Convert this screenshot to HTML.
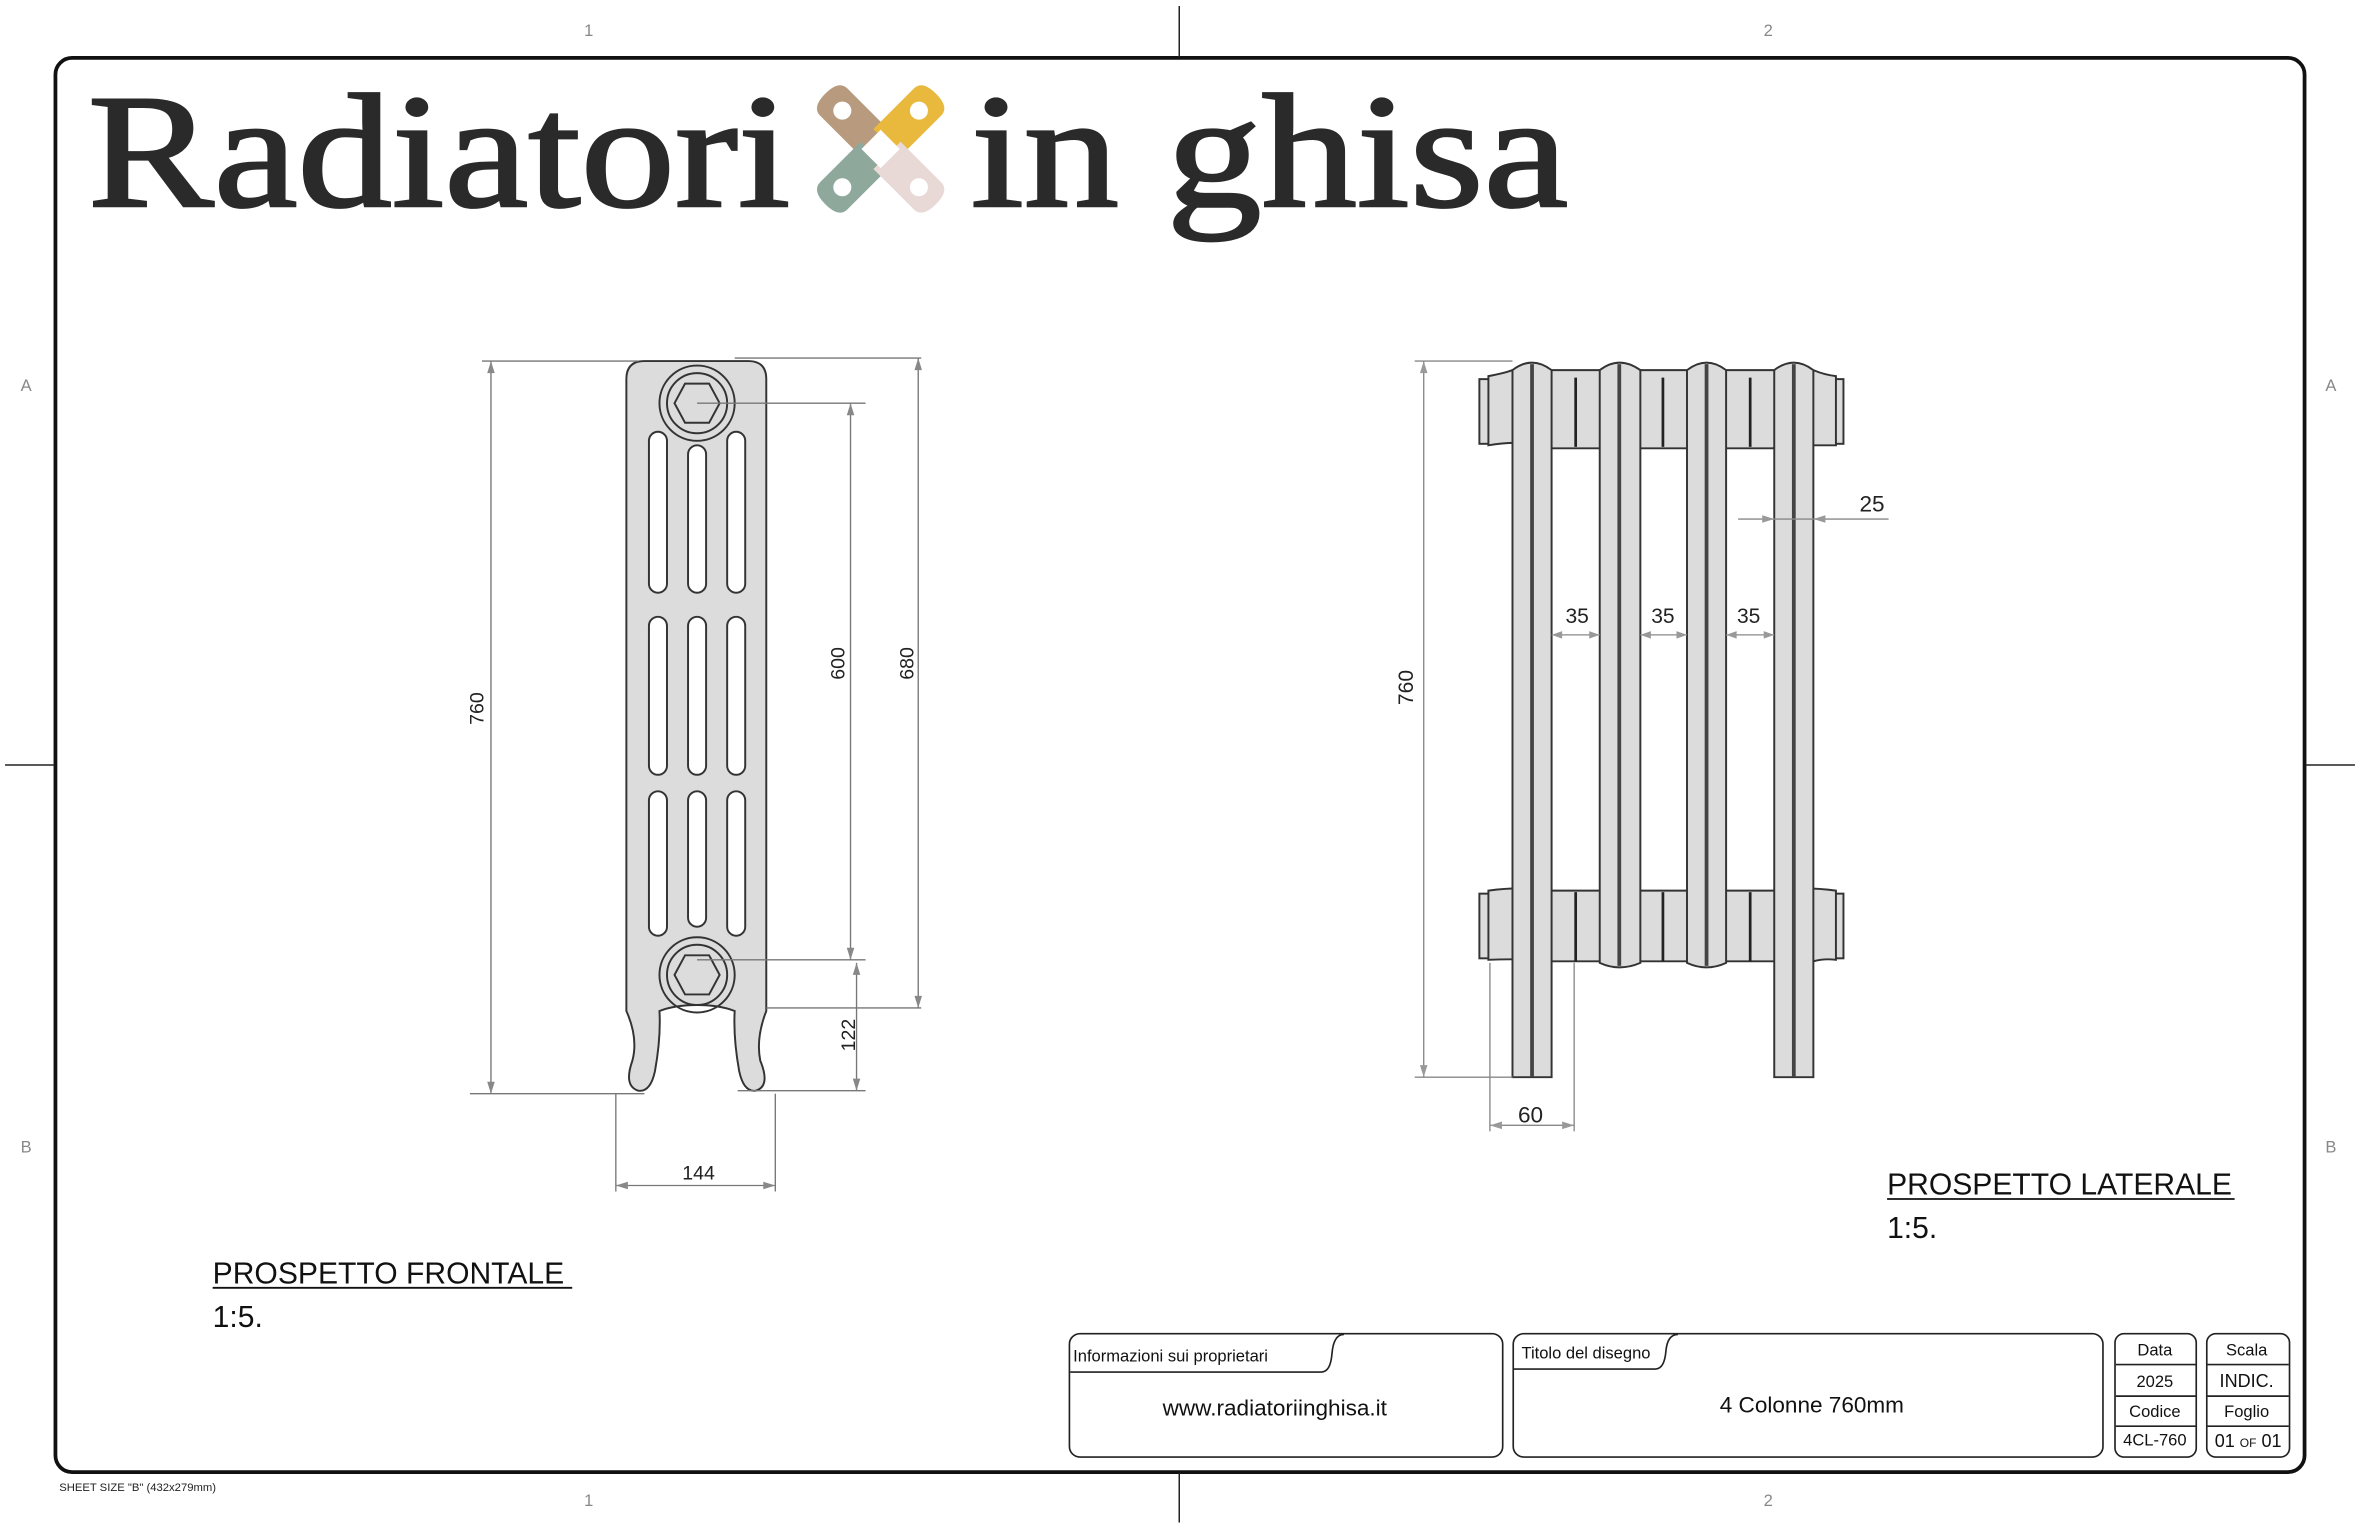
<!DOCTYPE html>
<html><head><meta charset="utf-8"><style>
html,body{margin:0;padding:0;background:#fff;}
svg{display:block;}
text{font-family:"Liberation Sans",sans-serif;}
</style></head><body>
<svg width="2360" height="1527" viewBox="0 0 1568 1015" xmlns="http://www.w3.org/2000/svg">
<rect width="1568" height="1015" fill="#fff"/>
<rect x="36.5" y="38.5" width="1495" height="940" rx="11" fill="none" stroke="#111" stroke-width="2.5"/>
<g stroke="#222" stroke-width="1">
<line x1="783.5" y1="4" x2="783.5" y2="38"/><line x1="783.5" y1="979" x2="783.5" y2="1012"/>
<line x1="3" y1="508.5" x2="36" y2="508.5"/><line x1="1532" y1="508.5" x2="1565" y2="508.5"/>
</g>
<g font-size="11" fill="#888" text-anchor="middle">
<text x="391" y="24">1</text><text x="1175" y="24">2</text>
<text x="391" y="1001">1</text><text x="1175" y="1001">2</text>
<text x="17" y="260">A</text><text x="17" y="766">B</text>
<text x="1549" y="260">A</text><text x="1549" y="766">B</text>
</g>
<text x="39" y="991" font-size="7.5" fill="#222">SHEET SIZE "B" (432x279mm)</text>
<text x="58" y="137" font-size="108" fill="#2a2a2a" stroke="#2a2a2a" stroke-width="1.6" textLength="467" lengthAdjust="spacingAndGlyphs" style="font-family:'Liberation Serif',serif">Radiatori</text>
<text x="645" y="137" font-size="108" fill="#2a2a2a" stroke="#2a2a2a" stroke-width="1.6" textLength="397" lengthAdjust="spacingAndGlyphs" style="font-family:'Liberation Serif',serif">in ghisa</text>
<g transform="translate(585,99)">
<g transform="rotate(-45)"><path d="M-8,-6 L-8,-44 Q-8,-52 0,-52 Q8,-52 8,-44 L8,-6 Z" fill="#b89b7e" transform="scale(1.6,1)"/><circle cx="0" cy="-36" r="6" fill="#fff"/></g>
<g transform="rotate(45)"><path d="M-8,-6 L-8,-44 Q-8,-52 0,-52 Q8,-52 8,-44 L8,-6 Z" fill="#e9b93e" transform="scale(1.6,1)"/><circle cx="0" cy="-36" r="6" fill="#fff"/></g>
<g transform="rotate(-135)"><path d="M-8,-6 L-8,-44 Q-8,-52 0,-52 Q8,-52 8,-44 L8,-6 Z" fill="#8ea89c" transform="scale(1.6,1)"/><circle cx="0" cy="-36" r="6" fill="#fff"/></g>
<g transform="rotate(135)"><path d="M-8,-6 L-8,-44 Q-8,-52 0,-52 Q8,-52 8,-44 L8,-6 Z" fill="#e8d8d6" transform="scale(1.6,1)"/><circle cx="0" cy="-36" r="6" fill="#fff"/></g>
<rect x="-9" y="-9" width="18" height="18" fill="#fff" transform="rotate(45)"/>
</g>
<g stroke="#333" stroke-width="1.3" fill="#dcdcdc">
<path d="M416,672 L416,252 Q416,240 428,240 L497,240 Q509,240 509,252 L509,672 Q502,690 505,705 Q512,722 502,725 Q494,726 491,712 Q487,690 488,672 Q478,668 463,668 Q448,668 438,672 Q439,690 435,712 Q432,726 424,725 Q414,722 420,705 Q424,690 416,672 Z"/>
</g>
<g fill="#fff" stroke="#333" stroke-width="1.3">
<rect x="431" y="287" width="12" height="107" rx="6"/><rect x="457" y="296" width="12" height="98" rx="6"/><rect x="483" y="287" width="12" height="107" rx="6"/>
<rect x="431" y="410" width="12" height="105" rx="6"/><rect x="457" y="410" width="12" height="105" rx="6"/><rect x="483" y="410" width="12" height="105" rx="6"/>
<rect x="431" y="526" width="12" height="96" rx="6"/><rect x="457" y="526" width="12" height="90" rx="6"/><rect x="483" y="526" width="12" height="96" rx="6"/>
</g>
<g fill="none" stroke="#333" stroke-width="1.3">
<circle cx="463" cy="268" r="25"/><circle cx="463" cy="268" r="20"/>
<polygon points="448,268 455,255 471,255 478,268 471,281 455,281"/>
<circle cx="463" cy="648" r="25"/><circle cx="463" cy="648" r="20"/>
<polygon points="448,648 455,635 471,635 478,648 471,661 455,661"/>
</g>
<g stroke="#777" stroke-width="0.9" fill="none">
<line x1="320" y1="240" x2="424" y2="240"/><line x1="312" y1="727" x2="428" y2="727"/><line x1="326" y1="240" x2="326" y2="727"/>
<line x1="463" y1="268" x2="575" y2="268"/><line x1="463" y1="638" x2="575" y2="638"/><line x1="565" y1="268" x2="565" y2="638"/>
<line x1="488" y1="238" x2="612" y2="238"/><line x1="509" y1="670" x2="612" y2="670"/><line x1="610" y1="238" x2="610" y2="670"/>
<line x1="569" y1="640" x2="569" y2="725"/><line x1="490" y1="725" x2="575" y2="725"/>
<line x1="409" y1="727" x2="409" y2="792"/><line x1="515" y1="727" x2="515" y2="792"/><line x1="409" y1="788" x2="515" y2="788"/>
</g>
<g fill="#888">
<path d="M326,240 l-2.5,8 h5z"/><path d="M326,727 l-2.5,-8 h5z"/>
<path d="M565,268 l-2.5,8 h5z"/><path d="M565,638 l-2.5,-8 h5z"/>
<path d="M610,238 l-2.5,8 h5z"/><path d="M610,670 l-2.5,-8 h5z"/>
<path d="M569,640 l-2.5,8 h5z"/><path d="M569,725 l-2.5,-8 h5z"/>
<path d="M409,788 l8,-2.5 v5z"/><path d="M515,788 l-8,-2.5 v5z"/>
</g>
<g font-size="13" fill="#222" text-anchor="middle">
<text transform="translate(321,471) rotate(-90)">760</text>
<text transform="translate(561,441) rotate(-90)">600</text>
<text transform="translate(607,441) rotate(-90)">680</text>
<text transform="translate(568,688) rotate(-90)">122</text>
<text x="464" y="784">144</text>
</g>
<g stroke="#333" stroke-width="1.3" fill="#dcdcdc">
<rect x="983" y="252" width="7" height="43"/><rect x="1218" y="252" width="7" height="43"/>
<rect x="983" y="594" width="7" height="43"/><rect x="1218" y="594" width="7" height="43"/>
<path d="M989,250 Q1000,248 1005,246 L1205,246 Q1212,249 1220,250 L1220,296 L1205,296 Q1190,292 1178,298 L1147,298 Q1134,292 1121,298 L1090,298 Q1076,292 1063,298 L1031,298 Q1012,292 989,296 Z"/>
<path d="M989,592 Q1010,589 1031,592 L1063,592 Q1076,589 1090,592 L1121,592 Q1134,589 1147,592 L1178,592 Q1198,589 1220,592 L1220,638 Q1212,637 1205,639 L1147,639 Q1134,644 1121,639 L1090,639 Q1076,644 1063,639 L1031,639 Q1012,637 989,638 Z"/>
<path d="M1005,246 Q1018,236 1031,246 L1031,716 L1005,716 Z"/>
<path d="M1063,246 Q1076,236 1090,246 L1090,640 Q1076,646 1063,640 Z"/>
<path d="M1121,246 Q1134,236 1147,246 L1147,640 Q1134,646 1121,640 Z"/>
<path d="M1179,246 Q1192,236 1205,246 L1205,716 L1179,716 Z"/>
</g>
<g stroke="#444" stroke-width="2.5">
<line x1="1018" y1="242" x2="1018" y2="716"/><line x1="1076" y1="242" x2="1076" y2="642"/>
<line x1="1134" y1="242" x2="1134" y2="642"/><line x1="1192" y1="242" x2="1192" y2="716"/>
</g>
<g stroke="#222" stroke-width="1.8">
<line x1="1047" y1="251" x2="1047" y2="297"/><line x1="1105" y1="251" x2="1105" y2="297"/><line x1="1163" y1="251" x2="1163" y2="297"/>
<line x1="1047" y1="593" x2="1047" y2="639"/><line x1="1105" y1="593" x2="1105" y2="639"/><line x1="1163" y1="593" x2="1163" y2="639"/>
</g>
<g stroke="#888" stroke-width="0.9" fill="none">
<line x1="940" y1="240" x2="1005" y2="240"/><line x1="940" y1="716" x2="1005" y2="716"/><line x1="946" y1="240" x2="946" y2="716"/>
<line x1="990" y1="640" x2="990" y2="752"/><line x1="1046" y1="640" x2="1046" y2="752"/><line x1="990" y1="748" x2="1046" y2="748"/>
<line x1="1155" y1="345" x2="1255" y2="345"/>
<line x1="1031" y1="422" x2="1063" y2="422"/><line x1="1090" y1="422" x2="1121" y2="422"/><line x1="1147" y1="422" x2="1179" y2="422"/>
</g>
<g fill="#999">
<path d="M946,240 l-2.5,8 h5z"/><path d="M946,716 l-2.5,-8 h5z"/>
<path d="M990,748 l8,-2.5 v5z"/><path d="M1046,748 l-8,-2.5 v5z"/>
<path d="M1179,345 l-8,-2.5 v5z"/><path d="M1205,345 l8,-2.5 v5z"/>
<path d="M1031,422 l7,-2.5 v5z"/><path d="M1063,422 l-7,-2.5 v5z"/>
<path d="M1090,422 l7,-2.5 v5z"/><path d="M1121,422 l-7,-2.5 v5z"/>
<path d="M1147,422 l7,-2.5 v5z"/><path d="M1179,422 l-7,-2.5 v5z"/>
</g>
<g font-size="14" fill="#222" text-anchor="middle">
<text transform="translate(939,457) rotate(-90)">760</text>
<text x="1017" y="746" font-size="15">60</text>
<text x="1244" y="340" font-size="15">25</text>
<text x="1048" y="414">35</text><text x="1105" y="414">35</text><text x="1162" y="414">35</text>
</g>
<g font-size="20" fill="#111">
<text x="141" y="853">PROSPETTO FRONTALE</text><line x1="141" y1="856" x2="380" y2="856" stroke="#111" stroke-width="1.2"/>
<text x="141" y="882">1:5.</text>
<text x="1254" y="794">PROSPETTO LATERALE</text><line x1="1254" y1="797" x2="1485" y2="797" stroke="#111" stroke-width="1.2"/>
<text x="1254" y="823">1:5.</text>
</g>
<g fill="none" stroke="#222" stroke-width="1.1">
<rect x="710.5" y="886.5" width="288" height="82" rx="7"/>
<path d="M711,912 L878,912 Q884,912 885,900 Q886,887 893,887"/>
<rect x="1005.5" y="886.5" width="392" height="82" rx="7"/>
<path d="M1006,910 L1100,910 Q1106,910 1107,898 Q1108,887 1115,887"/>
<rect x="1405.5" y="886.5" width="54" height="82" rx="6"/>
<rect x="1466.5" y="886.5" width="55" height="82" rx="6"/>
<line x1="1406" y1="907" x2="1459" y2="907"/><line x1="1406" y1="928" x2="1459" y2="928"/><line x1="1406" y1="948" x2="1459" y2="948"/>
<line x1="1467" y1="907" x2="1521" y2="907"/><line x1="1467" y1="928" x2="1521" y2="928"/><line x1="1467" y1="948" x2="1521" y2="948"/>
</g>
<g fill="#111">
<text x="713" y="905" font-size="11">Informazioni sui proprietari</text>
<text x="847" y="941" font-size="15" text-anchor="middle">www.radiatoriinghisa.it</text>
<text x="1011" y="903" font-size="11">Titolo del disegno</text>
<text x="1204" y="939" font-size="15" text-anchor="middle">4 Colonne 760mm</text>
<g font-size="11" text-anchor="middle">
<text x="1432" y="901">Data</text><text x="1432" y="922">2025</text><text x="1432" y="942">Codice</text><text x="1432" y="961">4CL-760</text>
<text x="1493" y="901">Scala</text><text x="1493" y="922" font-size="12">INDIC.</text><text x="1493" y="942">Foglio</text>
<text x="1494" y="962" font-size="12">01 <tspan font-size="8">OF</tspan> 01</text>
</g>
</g>
</svg>
</body></html>
